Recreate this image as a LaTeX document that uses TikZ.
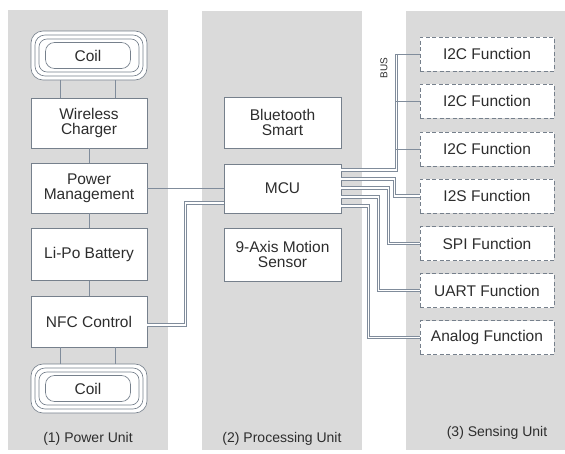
\documentclass[tikz,border=0pt]{standalone}
\usepackage{fontspec}
\setmainfont{Liberation Sans}
\definecolor{panelbg}{RGB}{218,218,218}
\definecolor{boxc}{RGB}{118,128,140}
\definecolor{linec}{RGB}{128,140,155}
\definecolor{txt}{RGB}{45,45,45}
\begin{document}
\begin{tikzpicture}[x=1pt,y=-1pt,
  box/.style={draw=boxc, fill=white, line width=0.75pt, text=txt, align=center,
    font=\fontsize{15.5}{15}\selectfont, minimum width=116pt, minimum height=50pt, inner sep=0pt},
  fbox/.style={draw=boxc, fill=white, line width=0.75pt, dash pattern=on 4pt off 2.5pt,
    text=txt, font=\fontsize{15.5}{15}\selectfont, minimum width=134pt, minimum height=34pt, inner sep=0pt},
  ring/.style={draw=boxc, line width=0.65pt, inner sep=0pt},
  ln/.style={draw=linec, line width=0.8pt},
  dbl/.style={draw=linec, line width=0.8pt, double=white, double distance=1.5pt},
  lbl/.style={text=txt, font=\fontsize{14}{14}\selectfont, inner sep=0pt}]
\useasboundingbox (0,0) rectangle (565,453);
% panels
\fill[panelbg] (8,10) rectangle (168,450);
\fill[panelbg] (202,11) rectangle (362,450);
\fill[panelbg] (406,11) rectangle (565,450);

% power unit
\node[ring, fill=white, minimum width=116pt, minimum height=49pt, rounded corners=12pt] (coilA) at (89,55.5) {};
\node[ring, minimum width=108pt, minimum height=41pt, rounded corners=10pt] (coilB) at (89,55.5) {};
\node[ring, minimum width=100pt, minimum height=33pt, rounded corners=8pt] (coilC) at (89,55.5) {};
\node[ring, minimum width=85pt, minimum height=26pt, rounded corners=9pt, text=txt, font=\fontsize{15.5}{15}\selectfont] (coil) at (88,55.5) {Coil};

\node[box] (wc) at (89,123) {Wireless\\Charger};
\node[box] (pm) at (89,188) {Power\\Management};
\node[box, minimum height=52pt] (bat) at (89,254.5) {Li-Po Battery};
\node[box, minimum height=51pt] (nfc) at (89,321.5) {NFC Control};

\node[ring, fill=white, minimum width=116pt, minimum height=49pt, rounded corners=12pt] (coilD) at (89,388.5) {};
\node[ring, minimum width=108pt, minimum height=41pt, rounded corners=10pt] (coilE) at (89,388.5) {};
\node[ring, minimum width=100pt, minimum height=33pt, rounded corners=8pt] (coilF) at (89,388.5) {};
\node[ring, minimum width=85pt, minimum height=26pt, rounded corners=9pt, text=txt, font=\fontsize{15.5}{15}\selectfont] (coil2) at (88,388.5) {Coil};

% processing unit
\node[box, minimum width=117pt, minimum height=51pt] (bt) at (282.5,122.5) {Bluetooth\\Smart};
\node[box, minimum width=117pt, minimum height=49pt] (mcu) at (282.5,188.5) {MCU};
\node[box, minimum width=117pt, minimum height=53pt] (imu) at (282.5,254.5) {9-Axis Motion\\Sensor};

% sensing unit
\node[fbox] (i2ca) at (487,54) {I2C Function};
\node[fbox] (i2cb) at (487,101) {I2C Function};
\node[fbox] (i2cc) at (487,149) {I2C Function};
\node[fbox] (i2s) at (487,196) {I2S Function};
\node[fbox] (spi) at (487,243.5) {SPI Function};
\node[fbox] (uart) at (487,290.5) {UART Function};
\node[fbox] (ana) at (487,337.5) {Analog Function};

% power unit connectors
\draw[ln] ([xshift=-29pt]coilA.south) -- ([xshift=-29pt]wc.north);
\draw[ln] ([xshift=26pt]coilA.south) -- ([xshift=26pt]wc.north);
\draw[ln] (wc.south) -- (pm.north);
\draw[ln] (pm.south) -- (bat.north);
\draw[ln] (bat.south) -- (nfc.north);
\draw[ln] ([xshift=-29pt]nfc.south) -- ([xshift=-29pt]coilD.north);
\draw[ln] ([xshift=26pt]nfc.south) -- ([xshift=26pt]coilD.north);

% to MCU
\draw[ln] (pm.east) -- (pm.east -| mcu.west);
\draw[dbl] ([yshift=-14.5pt]mcu.west) -| ([xshift=38pt,yshift=-3.5pt]nfc.east) -- ([yshift=-3.5pt]nfc.east);

% MCU to sensing
\draw[dbl] ([yshift=18.5pt]mcu.east) -| ([xshift=-23pt]i2ca.west);
\draw[ln] ([xshift=-24pt]i2ca.west) -- (i2ca.west);
\draw[ln] ([xshift=-24pt]i2cb.west) -- (i2cb.west);
\draw[ln] ([xshift=-24pt]i2cc.west) -- (i2cc.west);
\draw[dbl] ([yshift=9.5pt]mcu.east) -| ([xshift=-25pt]i2s.west) -- (i2s.west);
\draw[dbl] ([yshift=0.5pt]mcu.east) -| ([xshift=-31pt]spi.west) -- (spi.west);
\draw[dbl] ([yshift=-8.5pt]mcu.east) -| ([xshift=-41pt]uart.west) -- (uart.west);
\draw[dbl] ([yshift=-17.5pt]mcu.east) -| ([xshift=-51pt]ana.west) -- (ana.west);

\node[rotate=90, text=txt, font=\fontsize{10}{10}\selectfont, inner sep=0pt] (bus) at (384,68) {BUS};

% panel labels
\node[lbl] (l1) at (88,439) {(1) Power Unit};
\node[lbl] (l2) at (282,439) {(2) Processing Unit};
\node[lbl] (l3) at (497,433) {(3) Sensing Unit};
\end{tikzpicture}
\end{document}
